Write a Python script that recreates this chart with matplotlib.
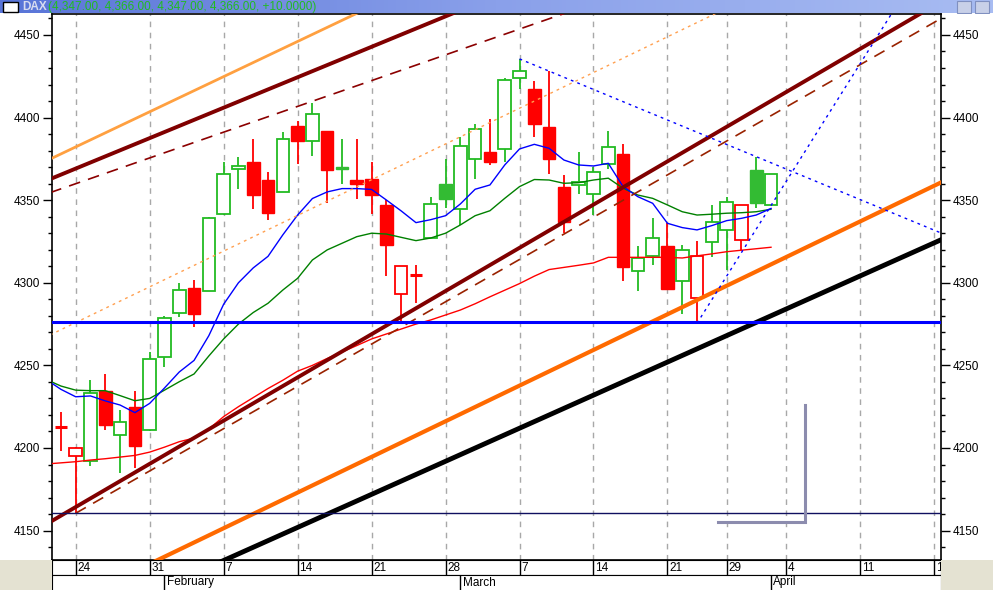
import numpy as np
import matplotlib
matplotlib.use("Agg")
from matplotlib import pyplot as plt
from matplotlib.patches import Rectangle

plt.rcParams['font.family'] = ['Liberation Sans', 'DejaVu Sans']

# trading day index: 0 = Mon 24 Jan 2005
days = list(range(-1, 48))
opens = [4213, 4195, 4192, 4234.5, 4208, 4225, 4211, 4255, 4281.5, 4297, 4295,
         4341.5, 4369, 4373, 4362, 4355, 4395, 4386, 4392, 4370, 4362.5,
         4363, 4347, 4293.5, 4304.5, 4327, 4359.5, 4344.5, 4375, 4379, 4381,
         4424, 4417, 4394, 4358, 4359, 4354, 4372, 4378, 4307, 4316,
         4322, 4301, 4290.5, 4324.5, 4332, 4326, 4368.5, 4347]
highs = [4222, 4200.5, 4241, 4245, 4223, 4234.5, 4258, 4280, 4300, 4301.5, 4340,
         4373, 4376, 4387, 4367, 4391, 4398, 4409, 4392, 4387, 4387,
         4373, 4350, 4310, 4311, 4352, 4375, 4388, 4396, 4399, 4424,
         4435.5, 4422, 4428, 4365, 4379, 4370, 4392, 4384, 4322, 4339,
         4336, 4323, 4325, 4347, 4352, 4347, 4376, 4366]
lows = [4198, 4160.5, 4189, 4211, 4185, 4188, 4210, 4249, 4279, 4273, 4295,
        4341, 4356.5, 4344.5, 4338, 4355, 4372, 4377, 4348, 4360, 4351,
        4341.5, 4304, 4276.5, 4288, 4327, 4345.5, 4335, 4363, 4371, 4373,
        4417, 4388, 4366, 4330, 4353.5, 4341, 4369, 4301, 4295, 4310.5,
        4296, 4281, 4275.5, 4315.5, 4308, 4319, 4345, 4347]
closes = [4213, 4200, 4233, 4214, 4216, 4201, 4254, 4278.5, 4295.5, 4281, 4339,
          4366, 4370.5, 4353, 4342, 4387, 4386, 4402, 4368.5, 4369, 4359.5,
          4353, 4323, 4310, 4304.5, 4347.5, 4350.5, 4382.5, 4393, 4373, 4423,
          4428, 4396, 4375, 4337, 4361, 4367, 4382, 4309.5, 4315, 4327,
          4296, 4320, 4316.5, 4337, 4349, 4347, 4348, 4366]
prev_close_first = 4221

ma_days = list(range(-2, 48))
ma_fast = [4241.5, 4235.5, 4231, 4231.5, 4228.5, 4226, 4221.4, 4227, 4236.3, 4246,
           4253, 4268, 4287, 4300, 4309, 4316, 4329, 4341, 4351, 4355,
           4357, 4357, 4356.5, 4350.1, 4343.5, 4336.4, 4338.2, 4340.6, 4347.7, 4356.6,
           4359.2, 4371.3, 4381, 4383.8, 4381.4, 4374.3, 4371.3, 4370.7, 4372.3, 4358.2,
           4352.1, 4348.1, 4336, 4333.4, 4332, 4334.6, 4337.6, 4339, 4341, 4345]
ma_mid = [4241.5, 4237.5, 4235, 4234.7, 4234.7, 4231.7, 4228.6, 4230, 4235, 4240.1,
          4244.8, 4255.7, 4266, 4275, 4282, 4287.6, 4295.6, 4302.7, 4313.8, 4319.9,
          4323.9, 4327.9, 4330, 4329.5, 4327.5, 4325.5, 4327.1, 4330, 4335, 4340.6,
          4343.6, 4351.1, 4358.2, 4362.5, 4362.2, 4360.2, 4360.6, 4362.2, 4363.3, 4357.2,
          4353.1, 4351.1, 4347.1, 4343, 4341, 4341.5, 4342.1, 4342.4, 4343, 4344.5]
ma_slow = [4190.3, 4191, 4191.7, 4192.7, 4193.5, 4194.5, 4195.5, 4197.5, 4200.5, 4203.8,
           4206, 4211.5, 4219, 4225, 4230.5, 4236, 4241, 4246.5, 4250, 4254.2,
           4258.1, 4262, 4266, 4269, 4272, 4275, 4277.5, 4280.5, 4283.5, 4287.3,
           4291.5, 4295.5, 4299.5, 4304, 4308, 4309.3, 4310.6, 4312, 4315.4, 4315.4,
           4315.4, 4315.4, 4315.4, 4315, 4316.3, 4317.5, 4318.8, 4319.7, 4320.6, 4321.5]

# trend lines: anchor day, anchor price, slope per day, first day drawn
upper_orange = (-1.58, 4375.5, 4.256, -3)
upper_maroon = (-1.58, 4363.3, 3.685, -3)
upper_maroon_dash = (5.14, 4376.0, 3.12, -3)
mid_orange_dot = (-1.6, 4269.0, 4.324, -3)
lower_orange = (47.62, 4313.8, 4.316, -3)
black_support = (47.62, 4282.5, 4.003, -3)
lower_maroon = (-1.58, 4156.0, 5.23, -3)
lower_maroon_dash = (0, 4160.5, 5.12, 0)
fall_line = (30, 4435.5, -3.698, 30)
rise_line = (42, 4275.5, 14.25, 42)
support_level = 4276.5
low_level = 4160.7

tick_days = [0, 5, 10, 15, 20, 25, 30, 35, 40, 44, 48, 53, 58]
tick_labels = ["24", "31", "7", "14", "21", "28", "7", "14", "21", "29", "4", "11", "18"]
month_days = [6, 26, 47]
month_labels = ["February", "March", "April"]
title_values = "(4,347.00, 4,366.00, 4,347.00, 4,366.00, +10.0000)"

W, H = 993, 590
XL = (-1.582, 58.47)
YL = (4132.2, 4462.5)

fig = plt.figure(figsize=(W / 100, H / 100), dpi=100)
fig.patch.set_facecolor("white")

ax = fig.add_axes([52.3 / W, 30 / H, 888.4 / W, 545.7 / H])
ax.set_xlim(*XL)
ax.set_ylim(*YL)
for s in ax.spines.values():
    s.set_linewidth(1.2)

for d in tick_days:
    ax.axvline(d, color="#a8a8a8", lw=1, ls=(0, (4, 4)), zorder=1)

# candles
RED = "#ff0000"
GREEN = "#22bb22"
bw = 0.85
prev = prev_close_first
for d, o, h, l, c in zip(days, opens, highs, lows, closes):
    col = RED if c < prev else GREEN
    prev = c
    top, bot = max(o, c), min(o, c)
    ax.plot([d, d], [top, h], color=col, lw=1.3, zorder=3, solid_capstyle="butt")
    ax.plot([d, d], [l, bot], color=col, lw=1.3, zorder=3, solid_capstyle="butt")
    if o == c:
        ax.plot([d - bw / 2, d + bw / 2], [o, o], color=col, lw=2.2, zorder=3,
                solid_capstyle="butt")
    elif c > o:
        ax.add_patch(Rectangle((d - bw / 2, bot), bw, top - bot, facecolor="white",
                               edgecolor=col, lw=1.3, zorder=3))
    else:
        fc = "#33bb33" if col == GREEN else RED
        ax.add_patch(Rectangle((d - bw / 2, bot), bw, top - bot, facecolor=fc,
                               edgecolor=fc, lw=1.0, zorder=3))

# moving averages
ax.plot(ma_days, ma_slow, color="#ff0000", lw=1.0, zorder=4)
ax.plot(ma_days, ma_mid, color="#008000", lw=1.0, zorder=4)
ax.plot(ma_days, ma_fast, color="#0000ff", lw=1.0, zorder=4)


def trend(line, **kw):
    d0, v0, k, start = line
    xs = np.array([start, 62.0])
    ax.plot(xs, v0 + k * (xs - d0), **kw)


trend(upper_orange, color="#ffa040", lw=2.0, zorder=5)
trend(mid_orange_dot, color="#ffa050", lw=1.0, ls=(0, (2, 3)), zorder=5)
trend(lower_orange, color="#ff6a00", lw=3.0, zorder=5)
trend(black_support, color="black", lw=3.5, zorder=5)
trend(upper_maroon, color="#800000", lw=2.8, zorder=5)
trend(lower_maroon, color="#800000", lw=2.8, zorder=5)
trend(upper_maroon_dash, color="#8b0000", lw=1.2, ls=(0, (7, 5)), zorder=5)
trend(lower_maroon_dash, color="#992200", lw=1.2, ls=(0, (7, 5)), zorder=5)
trend(fall_line, color="#0000ff", lw=1.0, ls=(0, (2, 3)), zorder=5)
trend(rise_line, color="#0000ff", lw=1.0, ls=(0, (2, 3)), zorder=5)
ax.axhline(support_level, color="#0000ff", lw=2.2, zorder=5)
ax.axhline(low_level, color="#101060", lw=1.0, zorder=5)

# shadow box corner
ax.plot([43.4, 49.3, 49.3], [4155.2, 4155.2, 4226], color="#8c8cae", lw=2.2,
        zorder=5, solid_joinstyle="miter")

# y axes on both sides
ax.set_yticks(np.arange(4150, 4451, 50))
ax.set_yticks(np.arange(4140, 4461, 10), minor=True)
ax.tick_params(axis="y", which="both", left=True, right=True, labelleft=True,
               labelright=True, direction="out", labelsize=8.5, pad=2)
ax.tick_params(axis="y", which="major", length=6.5, width=1)
ax.tick_params(axis="y", which="minor", length=3, width=1)
ax.tick_params(axis="x", which="both", bottom=False, labelbottom=False)

# date row
axd = fig.add_axes([52.3 / W, 15 / H, 888.4 / W, 15 / H])
axd.set_xlim(*XL)
axd.set_ylim(0, 1)
axd.set_xticks([])
axd.set_yticks([])
for d, t in zip(tick_days, tick_labels):
    axd.axvline(d, color="black", lw=1)
    axd.text(d + 0.13, 0.45, t, va="center", ha="left", fontsize=8.5, clip_on=True)

axm = fig.add_axes([52.3 / W, 0, 888.4 / W, 15 / H])
axm.set_xlim(*XL)
axm.set_ylim(0, 1)
axm.set_xticks([])
axm.set_yticks([])
axm.spines["bottom"].set_visible(False)
for d, t in zip(month_days, month_labels):
    axm.axvline(d, color="black", lw=1)
    axm.text(d + 0.15, 0.5, t, va="center", ha="left", fontsize=8.5, clip_on=True)

# patterned corners
for x0, w in [(0, 52.3), (940.7, W - 940.7)]:
    fig.patches.append(Rectangle((x0 / W, 0), w / W, 30 / H, transform=fig.transFigure,
                                 facecolor="#e4e2d2", edgecolor="none", zorder=0))

# title bar
axt = fig.add_axes([0, 1 - 13.5 / H, 1, 13.5 / H])
grad = np.linspace(0, 1, 256).reshape(1, -1)
axt.imshow(grad, aspect="auto", cmap=matplotlib.colors.LinearSegmentedColormap.from_list(
    "bar", ["#5874d8", "#8aa0ea", "#a8bcf2"]), extent=(0, 1, 0, 1))
axt.set_xlim(0, 1)
axt.set_ylim(0, 1)
axt.axis("off")
axt.add_patch(Rectangle((3 / W, 0.12), 15 / W, 0.76, facecolor="white", edgecolor="black", lw=1))
axt.text(22 / W, 0.5, "DAX", color="#d8dcf0", fontsize=8.5, fontweight="bold", va="center")
axt.text(48 / W, 0.5, title_values, color="#22bb22", fontsize=8.5, va="center")
for bx in [957, 975]:
    axt.add_patch(Rectangle((bx / W, 0.05), 14 / W, 0.9, facecolor="#c8d0e8",
                            edgecolor="#8090c0", lw=0.8))

fig.savefig("out.png", dpi=100)
